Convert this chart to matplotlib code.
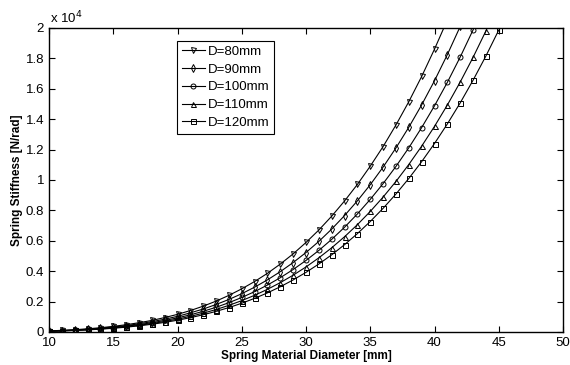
import matplotlib
matplotlib.use("Agg")
import matplotlib.pyplot as plt
from matplotlib.ticker import FuncFormatter

plt.rcParams['font.family'] = ['Liberation Sans', 'DejaVu Sans']

# Spring material diameter [mm]
d = list(range(10, 46))

# Spring stiffness [N/rad]
k_D80 = [70, 110, 150, 210, 280, 370, 480, 610, 760, 950, 1160, 1410, 1700, 2030,
         2410, 2840, 3320, 3860, 4470, 5140, 5890, 6710, 7620, 8620, 9710, 10910,
         12200, 13620, 15150, 16810, 18610, 20530, 22600, 24840, 27230, 29800]
k_D90 = [60, 90, 130, 180, 250, 330, 420, 540, 680, 840, 1030, 1260, 1510, 1810,
         2140, 2520, 2950, 3430, 3970, 4570, 5230, 5960, 6770, 7660, 8630, 9690,
         10850, 12110, 13470, 14940, 16530, 18250, 20100, 22080, 24210, 26490]
k_D100 = [58, 85, 121, 166, 223, 294, 381, 485, 610, 758, 930, 1130, 1362, 1627,
          1929, 2271, 2656, 3089, 3573, 4111, 4708, 5368, 6095, 6893, 7768, 8723,
          9763, 10894, 12120, 13448, 14881, 16425, 18088, 19873, 21787, 23836]
k_D110 = [53, 77, 110, 151, 203, 268, 346, 441, 555, 689, 846, 1028, 1238, 1479,
          1753, 2064, 2415, 2808, 3248, 3738, 4280, 4880, 5541, 6267, 7062, 7930,
          8876, 9904, 11019, 12225, 13528, 14933, 16444, 18066, 19806, 21669]
k_D120 = [48, 71, 100, 138, 186, 245, 317, 405, 509, 631, 775, 942, 1135, 1356,
          1607, 1892, 2214, 2574, 2977, 3426, 3924, 4474, 5079, 5745, 6473, 7269,
          8136, 9078, 10100, 11206, 12401, 13689, 15073, 16561, 18156, 19863]

series = [
    ("D=80mm", k_D80, "v"),
    ("D=90mm", k_D90, "d"),
    ("D=100mm", k_D100, "o"),
    ("D=110mm", k_D110, "^"),
    ("D=120mm", k_D120, "s"),
]

x_ticks = [10, 15, 20, 25, 30, 35, 40, 45, 50]
y_ticks = [0, 2000, 4000, 6000, 8000, 10000, 12000, 14000, 16000, 18000, 20000]

fig = plt.figure(figsize=(5.7, 3.65), dpi=100)
ax = fig.add_axes([49/570, 1 - 332/365, (563-49)/570, (332-28)/365])

for label, vals, m in series:
    ax.plot(d, vals, color='black', linewidth=0.8, marker=m, markersize=3.6,
            markerfacecolor='none', markeredgecolor='black', markeredgewidth=0.7,
            label=label)

ax.set_xlim(10, 50)
ax.set_ylim(0, 20000)
ax.set_xticks(x_ticks)
ax.set_yticks(y_ticks)
ax.yaxis.set_major_formatter(FuncFormatter(lambda v, p: ('%g' % (v / 1e4))))
ax.tick_params(direction='in', top=True, right=True, labelsize=9.5, length=4, width=0.8)
for s in ax.spines.values():
    s.set_linewidth(1.0)

ax.set_xlabel("Spring Material Diameter [mm]", fontsize=8.5, fontweight='bold', labelpad=1)
ax.set_ylabel("Spring Stiffness [N/rad]", fontsize=8.5, fontweight='bold', labelpad=2)

fig.text(50/570, 1 - 18/365, r"x 10$^{4}$", fontsize=9.5, ha='left', va='center')

leg = ax.legend(loc='upper left', bbox_to_anchor=((177-49)/(563-49), 1 - (41-28)/(332-28)),
                fontsize=9.5, frameon=True, fancybox=False, framealpha=1,
                edgecolor='black', handlelength=1.8, handletextpad=0.2,
                borderpad=0.35, labelspacing=0.42, borderaxespad=0)
leg.get_frame().set_linewidth(0.8)

fig.savefig("out.png", dpi=100)
